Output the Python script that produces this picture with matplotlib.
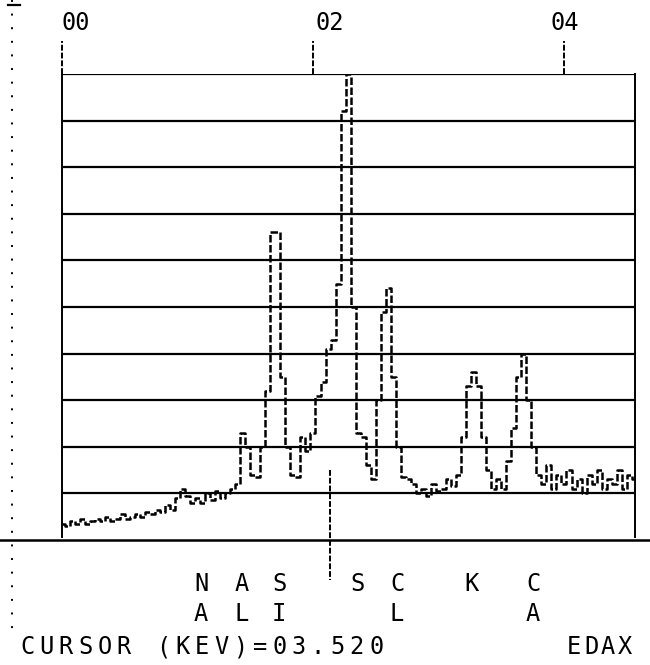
import numpy as np
import matplotlib
matplotlib.use("Agg")
import matplotlib.pyplot as plt

# EDAX spectrum, counts in grid units (one unit per horizontal line), 0.04 keV channels
kev_step = 0.04
counts = [0.35, 0.3, 0.4, 0.35, 0.45, 0.35, 0.4, 0.45, 0.4, 0.5,
          0.4, 0.45, 0.55, 0.45, 0.5, 0.55, 0.5, 0.6, 0.55, 0.65,
          0.6, 0.75, 0.65, 0.9, 1.1, 0.95, 0.8, 0.9, 0.8, 1.0,
          0.85, 1.05, 0.9, 1.0, 1.1, 1.2, 2.3, 2.0, 1.4, 1.35,
          2.0, 3.2, 6.6, 6.6, 3.5, 2.0, 1.4, 1.35, 2.2, 1.9,
          2.3, 3.1, 3.4, 4.1, 4.3, 5.5, 9.2, 10.0, 5.0, 2.3,
          2.2, 1.6, 1.3, 3.0, 4.9, 5.4, 3.5, 2.0, 1.35, 1.3,
          1.2, 1.0, 1.1, 0.95, 1.2, 1.05, 1.1, 1.3, 1.15, 1.4,
          2.2, 3.3, 3.6, 3.3, 2.2, 1.5, 1.1, 1.3, 1.1, 1.7,
          2.4, 3.5, 4.0, 3.0, 2.0, 1.4, 1.2, 1.6, 1.1, 1.4,
          1.2, 1.5, 1.1, 1.3, 1.0, 1.4, 1.2, 1.5, 1.1, 1.3,
          1.2, 1.5, 1.1, 1.4, 1.3]
energy = np.arange(len(counts)) * kev_step

scale_ticks = [0, 2, 4]
scale_labels = ["00", "02", "04"]
scale_label_px = [76, 330, 565]
cursor_kev = 2.135
cursor_text = "CURSOR (KEV)=03.520"
brand = "EDAX"
# element markers: (top letter, bottom letter, x pixel)
elements = [("N", "A", 201), ("A", "L", 242), ("S", "I", 279),
            ("S", "", 357), ("C", "L", 397), ("K", "", 472), ("C", "A", 533)]

W, H = 650, 665
fig = plt.figure(figsize=(6.5, 6.65), dpi=100)
x_left, x_right, y_top, y_base = 62, 635, 74, 540
ax = fig.add_axes([x_left / W, 1 - y_base / H, (x_right - x_left) / W, (y_base - y_top) / H])
ax.set_xlim(0, 4.566)
ax.set_ylim(0, 10)

mono = "DejaVu Sans Mono"
dash = (0, (3, 1))

# horizontal scale lines
for lvl in range(1, 11):
    ax.axhline(lvl, color="black", lw=1.6)
ax.set_xticks([])
ax.set_yticks([])
for side in ["top", "bottom"]:
    ax.spines[side].set_visible(False)
for side in ["left", "right"]:
    ax.spines[side].set_linestyle(dash)
    ax.spines[side].set_linewidth(1.4)
    ax.spines[side].set_bounds(0.07, 10)

# spectrum, dot-matrix style
ax.step(energy, counts, where="mid", color="black", lw=1.8, linestyle=dash)

# top energy scale
for e in scale_ticks:
    ax.plot([e, e], [10, 10.7], color="black", lw=1.4, linestyle=dash, clip_on=False)
for px, lab in zip(scale_label_px, scale_labels):
    fig.text(px / W, 1 - 23 / H, lab, ha="center", va="center", fontsize=17, family=mono)

# cursor
ax.plot([cursor_kev, cursor_kev], [1.5, -0.86], color="black", lw=1.4,
        linestyle=dash, clip_on=False)

# baseline and left dotted rule
fig.add_artist(plt.Line2D([0, 1], [1 - y_base / H] * 2, color="black", lw=1.8))
fig.add_artist(plt.Line2D([12 / W] * 2, [1, 0.05], color="black", lw=1.4, linestyle=(0, (1, 6))))
fig.add_artist(plt.Line2D([8 / W, 20 / W], [1 - 5 / H] * 2, color="black", lw=1.6))

# element labels
for top, bot, px in elements:
    fig.text(px / W, 1 - 584 / H, top, ha="center", va="center", fontsize=17, family=mono)
    if bot:
        fig.text(px / W, 1 - 614 / H, bot, ha="center", va="center", fontsize=17, family=mono)

# bottom status line
for i, ch in enumerate(cursor_text):
    fig.text((27 + i * 19.4) / W, 1 - 647 / H, ch, ha="center", va="center",
             fontsize=17, family=mono)
for i, ch in enumerate(brand):
    fig.text((574 + i * 17) / W, 1 - 647 / H, ch, ha="center", va="center",
             fontsize=17, family=mono)

fig.savefig("out.png", dpi=100, facecolor="white")
